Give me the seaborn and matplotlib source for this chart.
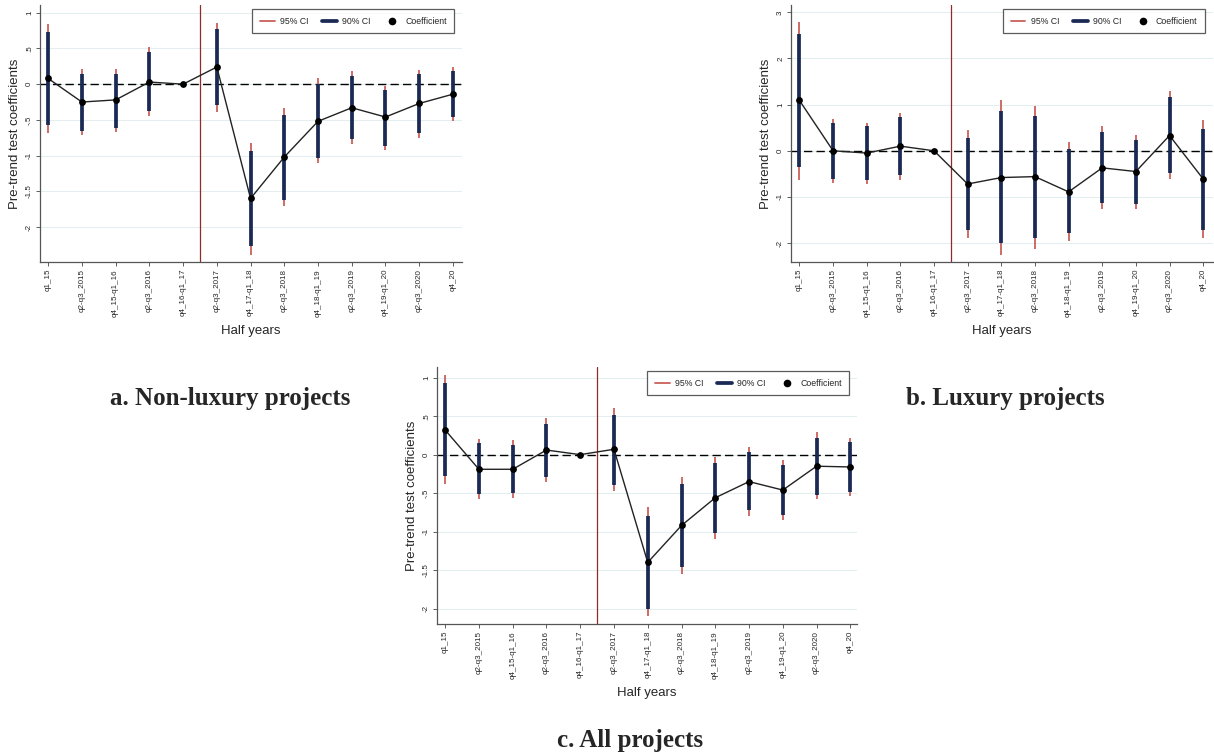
import matplotlib
matplotlib.use("Agg")
import matplotlib.pyplot as plt
from matplotlib.lines import Line2D
import numpy as np
import pandas as pd
import seaborn as sns

periods = ["q1_15", "q2-q3_2015", "q4_15-q1_16", "q2-q3_2016", "q4_16-q1_17",
           "q2-q3_2017", "q4_17-q1_18", "q2-q3_2018", "q4_18-q1_19", "q2-q3_2019",
           "q4_19-q1_20", "q2-q3_2020", "q4_20"]

# a. Non-luxury projects
nonlux_coef = [0.08, -0.25, -0.22, 0.03, 0.0, 0.24, -1.60, -1.02, -0.52, -0.33, -0.46, -0.27, -0.14]
nonlux_lo90 = [-0.57, -0.65, -0.61, -0.38, 0.0, -0.29, -2.27, -1.62, -1.03, -0.77, -0.86, -0.69, -0.46]
nonlux_hi90 = [0.73, 0.14, 0.14, 0.45, 0.0, 0.77, -0.94, -0.43, 0.0, 0.11, -0.08, 0.14, 0.18]
nonlux_lo95 = [-0.68, -0.71, -0.67, -0.45, 0.0, -0.39, -2.39, -1.71, -1.11, -0.84, -0.92, -0.76, -0.52]
nonlux_hi95 = [0.84, 0.21, 0.21, 0.52, 0.0, 0.86, -0.82, -0.33, 0.08, 0.18, -0.02, 0.20, 0.24]

# b. Luxury projects
lux_coef = [1.09, 0.0, -0.05, 0.10, 0.0, -0.72, -0.58, -0.56, -0.89, -0.37, -0.45, 0.33, -0.61]
lux_lo90 = [-0.36, -0.61, -0.63, -0.53, 0.0, -1.71, -1.99, -1.89, -1.79, -1.14, -1.15, -0.48, -1.71]
lux_hi90 = [2.53, 0.61, 0.53, 0.73, 0.0, 0.28, 0.86, 0.75, 0.03, 0.40, 0.24, 1.16, 0.48]
lux_lo95 = [-0.63, -0.70, -0.71, -0.63, 0.0, -1.89, -2.25, -2.13, -1.96, -1.26, -1.26, -0.61, -1.89]
lux_hi95 = [2.80, 0.69, 0.61, 0.81, 0.0, 0.45, 1.10, 0.97, 0.20, 0.53, 0.35, 1.30, 0.67]

# c. All projects
all_coef = [0.32, -0.19, -0.19, 0.06, 0.0, 0.07, -1.40, -0.92, -0.56, -0.35, -0.46, -0.15, -0.16]
all_lo90 = [-0.28, -0.51, -0.50, -0.29, 0.0, -0.39, -2.00, -1.46, -1.02, -0.72, -0.79, -0.52, -0.48]
all_hi90 = [0.93, 0.15, 0.13, 0.40, 0.0, 0.52, -0.80, -0.38, -0.11, 0.04, -0.13, 0.22, 0.17]
all_lo95 = [-0.38, -0.57, -0.56, -0.35, 0.0, -0.47, -2.10, -1.55, -1.09, -0.80, -0.85, -0.58, -0.54]
all_hi95 = [1.04, 0.20, 0.19, 0.47, 0.0, 0.61, -0.68, -0.29, -0.03, 0.10, -0.07, 0.29, 0.22]

ticks_a = [1, 0.5, 0, -0.5, -1, -1.5, -2]
ticks_b = [3, 2, 1, 0, -1, -2]

RED = "#c9605a"
NAVY = "#1b2a55"
GRID = "#e4eef0"

sns.set_theme(style="white")
plt.rcParams["font.family"] = ["Liberation Sans", "DejaVu Sans"]


def stata_fmt(v):
    s = f"{v:g}"
    return s.replace("0.", ".")


def draw_panel(ax, coef, lo90, hi90, lo95, hi95, yticks, ylim, xlim):
    df = pd.DataFrame({"pos": np.arange(len(periods)), "coef": coef,
                       "lo90": lo90, "hi90": hi90, "lo95": lo95, "hi95": hi95})
    for t in yticks:
        ax.axhline(t, color=GRID, lw=0.8, zorder=0)
    ci = df[df["lo95"] != df["hi95"]]
    ax.vlines(ci["pos"], ci["lo95"], ci["hi95"], color=RED, lw=1.3, zorder=2)
    ax.vlines(ci["pos"], ci["lo90"], ci["hi90"], color=NAVY, lw=2.7, zorder=3)
    ax.axhline(0, color="black", lw=1.0, ls=(0, (6, 3)), zorder=1)
    ax.axvline(4.5, color="#8e2b2b", lw=0.9, zorder=1)
    sns.lineplot(data=df, x="pos", y="coef", color="#222222", lw=1.0, ax=ax, zorder=4)
    sns.scatterplot(data=df, x="pos", y="coef", color="black", s=24, edgecolor="black",
                    linewidth=0, ax=ax, zorder=5)
    ax.set_xlim(*xlim)
    ax.set_ylim(*ylim)
    ax.set_xticks(df["pos"])
    ax.set_xticklabels(periods, rotation=90, fontsize=5.8)
    ax.set_yticks(yticks)
    ax.set_yticklabels([stata_fmt(t) for t in yticks], rotation=90, va="center", fontsize=5.8)
    ax.tick_params(axis="both", length=3, width=0.6, color="#444444", pad=2,
                   bottom=True, left=True)
    sns.despine(ax=ax)
    for side in ["left", "bottom"]:
        ax.spines[side].set_color("#555555")
        ax.spines[side].set_linewidth(0.9)
    ax.set_xlabel("Half years", fontsize=9.5, labelpad=6)
    ax.set_ylabel("Pre-trend test coefficients", fontsize=9.5, labelpad=4)
    handles = [Line2D([], [], color=RED, lw=1.3),
               Line2D([], [], color=NAVY, lw=2.7),
               Line2D([], [], color="black", marker="o", ls="none", markersize=4.5)]
    leg = ax.legend(handles, ["95% CI", "90% CI", "Coefficient"], ncol=3,
                    loc="upper right", bbox_to_anchor=(0.985, 0.99), fontsize=6.3,
                    frameon=True, fancybox=False, edgecolor="#333333",
                    borderpad=0.85, handlelength=1.7, columnspacing=1.6, handletextpad=0.6,
                    borderaxespad=0.2)
    leg.get_frame().set_linewidth(0.9)


fig = plt.figure(figsize=(12.14, 7.54), dpi=100)
ax_a = fig.add_axes([0.033, 0.6525, 0.3476, 0.341])
ax_b = fig.add_axes([0.6516, 0.6525, 0.3475, 0.341])
ax_c = fig.add_axes([0.36, 0.1724, 0.346, 0.341])

draw_panel(ax_a, nonlux_coef, nonlux_lo90, nonlux_hi90, nonlux_lo95, nonlux_hi95,
           ticks_a, (-2.49, 1.11), (-0.24, 12.27))
draw_panel(ax_b, lux_coef, lux_lo90, lux_hi90, lux_lo95, lux_hi95,
           ticks_b, (-2.41, 3.16), (-0.25, 12.29))
draw_panel(ax_c, all_coef, all_lo90, all_hi90, all_lo95, all_hi95,
           ticks_a, (-2.2, 1.14), (-0.24, 12.2))

cap = dict(fontsize=18, fontweight="bold", family="Liberation Serif",
           ha="center", va="center")
fig.text(230 / 1214, 1 - 398 / 754, "a. Non-luxury projects", **cap)
fig.text(1005 / 1214, 1 - 398 / 754, "b. Luxury projects", **cap)
fig.text(630 / 1214, 1 - 740 / 754, "c. All projects", **cap)

fig.savefig("out.png", dpi=100)
